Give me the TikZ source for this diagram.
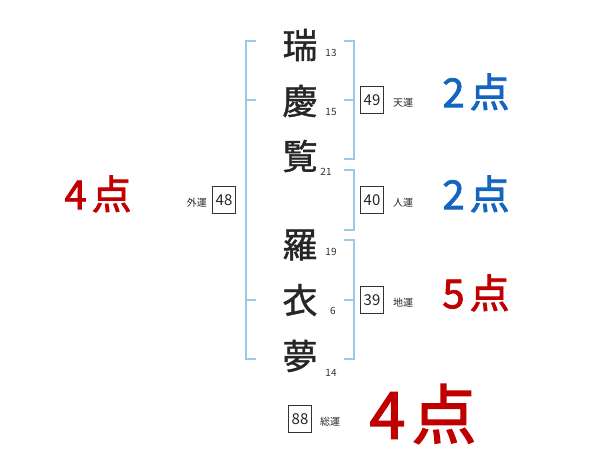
\documentclass[tikz,border=0pt]{standalone}
\usepackage{fontspec}
\setmainfont{Noto Sans CJK JP}
\newfontfamily\medfont{Noto Sans CJK JP}[FakeBold=1.2]
\newfontfamily\scorefont{Noto Sans CJK JP}[FakeBold=2]
\definecolor{brk}{HTML}{9CCBE8}
\definecolor{sblue}{HTML}{1565C0}
\definecolor{sred}{HTML}{C00000}
\begin{document}
\begin{tikzpicture}[x=1pt,y=-1pt,
  kanji/.style={font=\medfont\fontsize{35}{35}\selectfont, inner sep=0pt, text=black!85},
  strokes/.style={font=\fontsize{10}{10}\selectfont, inner sep=0pt, text=black!80},
  numbox/.style={draw=black!80, line width=0.7pt, minimum width=23pt, minimum height=27pt, inner sep=0pt, font=\fontsize{15}{15}\selectfont, text=black!85},
  lbl/.style={font=\fontsize{10}{10}\selectfont, inner sep=0pt, text=black!85},
  score/.style={font=\scorefont\fontsize{40}{40}\selectfont, inner sep=0pt},
  bigscore/.style={font=\scorefont\fontsize{65}{65}\selectfont, inner sep=0pt},
  bracket/.style={draw=brk, line width=1.3pt}]
\useasboundingbox (0,0) rectangle (600,470);
% characters
\node[kanji] (c1) at (300,45) {瑞};
\node[kanji] (c2) at (300,101) {慶};
\node[kanji] (c3) at (300,156) {覧};
\node[kanji] (c4) at (300,245) {羅};
\node[kanji] (c5) at (300,300) {衣};
\node[kanji] (c6) at (300,356) {夢};
% stroke counts
\node[strokes] (s1) at (331,53) {13};
\node[strokes] (s2) at (331,112) {15};
\node[strokes] (s3) at (326,172) {21};
\node[strokes] (s4) at (331,252) {19};
\node[strokes] (s5) at (333,311) {6};
\node[strokes] (s6) at (331,373) {14};
% left bracket
\coordinate (lt) at (246,41);
\coordinate (lb) at (246,359);
\draw[bracket] (256,41) -- (lt) -- (lb) -- (256,359);
\coordinate (lm1) at (246,100);
\coordinate (lm2) at (246,300);
\draw[bracket] (lm1) -- (256,100);
\draw[bracket] (lm2) -- (256,300);
% right bracket 1
\draw[bracket] (344,41) -- (354,41) -- (354,159) -- (344,159);
\draw[bracket] (344,100) -- (354,100);
% right bracket 2
\draw[bracket] (344,170) -- (354,170) -- (354,230) -- (344,230);
% right bracket 3
\draw[bracket] (344,240) -- (354,240) -- (354,359) -- (344,359);
\draw[bracket] (344,300) -- (354,300);
% boxes
\node[numbox] (b1) at (372,100) {49};
\node[lbl, anchor=west] (l1) at (393,103) {天運};
\node[numbox] (b2) at (372,200) {40};
\node[lbl, anchor=west] (l2) at (393,203) {人運};
\node[numbox] (b3) at (372,300) {39};
\node[lbl, anchor=west] (l3) at (393,303) {地運};
\node[numbox] (b4) at (224,200) {48};
\node[lbl, anchor=east] (l4) at (207,203) {外運};
\node[numbox] (b5) at (300,419) {88};
\node[lbl, anchor=west] (l5) at (320,422) {総運};
% scores
\node[score, text=sblue] (p1) at (476,92) {2\hspace{5pt}点};
\node[score, text=sblue] (p2) at (476,194) {2\hspace{5pt}点};
\node[score, text=sred] (p3) at (476,293) {5\hspace{5pt}点};
\node[score, text=sred] (p4) at (98,194) {4\hspace{5pt}点};
\node[bigscore, text=sred] (p5) at (423,414) {4\hspace{6pt}点};
\end{tikzpicture}
\end{document}
